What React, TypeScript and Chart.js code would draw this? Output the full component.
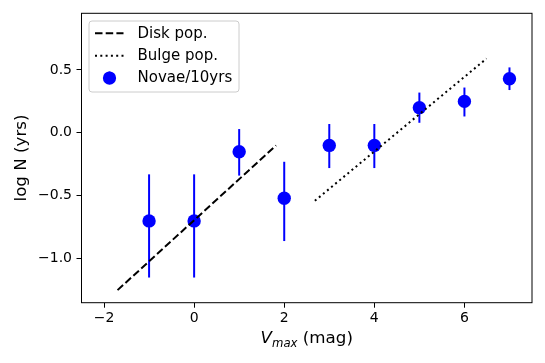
import React, { useEffect, useRef } from 'react';
import { Chart, registerables } from 'chart.js';

Chart.register(...registerables);

// ---- data ----
const vmax = [-1, 0, 1, 2, 3, 4, 5, 6, 7];
const logN = [-0.7, -0.7, -0.15, -0.52, -0.1, -0.1, 0.2, 0.25, 0.43];
const errUpper = [0.37, 0.37, 0.18, 0.29, 0.17, 0.17, 0.12, 0.11, 0.09];
const errLower = [0.45, 0.45, 0.19, 0.34, 0.18, 0.18, 0.12, 0.12, 0.09];

const diskX = [-1.7, 1.82];
const diskY = [-1.25, -0.1];
const bulgeX = [2.68, 6.49];
const bulgeY = [-0.54, 0.59];

const xTicks = [-2, 0, 2, 4, 6];
const yTicks = [-1.0, -0.5, 0.0, 0.5];

const legendLabels = ['Disk pop.', 'Bulge pop.', 'Novae/10yrs'];

const FONT = "'DejaVu Sans', sans-serif";
const TICK_FS = 14;
const LABEL_FS = 16.7;
const LEG_FS = 15;
const BLUE = '#0000ff';
const DASH = [7.5, 3.2];
const DOT = [2, 3.3];
const LW = 2;

const fmtMinus = (s: string) => s.replace('-', '\u2212');

const customPlugin = {
  id: 'customDraw',
  beforeDatasetDraw(chart: any, args: any) {
    if (args.index !== 2) return;
    const { ctx, scales } = chart;
    const xs = scales.x;
    const ys = scales.y;
    ctx.save();
    ctx.strokeStyle = BLUE;
    ctx.lineWidth = 2;
    vmax.forEach((v, i) => {
      const px = xs.getPixelForValue(v);
      ctx.beginPath();
      ctx.moveTo(px, ys.getPixelForValue(logN[i] + errUpper[i]));
      ctx.lineTo(px, ys.getPixelForValue(logN[i] - errLower[i]));
      ctx.stroke();
    });
    ctx.restore();
  },
  afterDraw(chart: any) {
    const { ctx, chartArea } = chart;
    const { left, right, top, bottom } = chartArea;
    ctx.save();
    // frame
    ctx.strokeStyle = '#000';
    ctx.lineWidth = 1;
    ctx.strokeRect(left, top, right - left, bottom - top);

    // legend
    const lx = 89, ly = 21, lw = 150, lh = 71;
    ctx.beginPath();
    const r = 3;
    ctx.moveTo(lx + r, ly);
    ctx.lineTo(lx + lw - r, ly);
    ctx.arcTo(lx + lw, ly, lx + lw, ly + r, r);
    ctx.lineTo(lx + lw, ly + lh - r);
    ctx.arcTo(lx + lw, ly + lh, lx + lw - r, ly + lh, r);
    ctx.lineTo(lx + r, ly + lh);
    ctx.arcTo(lx, ly + lh, lx, ly + lh - r, r);
    ctx.lineTo(lx, ly + r);
    ctx.arcTo(lx, ly, lx + r, ly, r);
    ctx.closePath();
    ctx.fillStyle = 'rgba(255,255,255,0.8)';
    ctx.fill();
    ctx.strokeStyle = '#cccccc';
    ctx.lineWidth = 1;
    ctx.stroke();

    const rows = [33.3, 55.7, 78];
    const hx0 = 95, hx1 = 123.5, mx = 109.5;
    ctx.strokeStyle = '#000';
    ctx.lineWidth = LW;
    ctx.setLineDash(DASH);
    ctx.beginPath();
    ctx.moveTo(hx0, rows[0]);
    ctx.lineTo(hx1, rows[0]);
    ctx.stroke();
    ctx.setLineDash(DOT);
    ctx.beginPath();
    ctx.moveTo(hx0, rows[1]);
    ctx.lineTo(hx1, rows[1]);
    ctx.stroke();
    ctx.setLineDash([]);
    ctx.fillStyle = BLUE;
    ctx.beginPath();
    ctx.arc(mx, rows[2], 6.6, 0, Math.PI * 2);
    ctx.fill();
    ctx.strokeStyle = BLUE;
    ctx.lineWidth = 2;
    ctx.beginPath();
    ctx.moveTo(mx, rows[2] - 6.5);
    ctx.lineTo(mx, rows[2] + 6.5);
    ctx.stroke();

    ctx.fillStyle = '#000';
    ctx.font = `${LEG_FS}px ${FONT}`;
    ctx.textAlign = 'left';
    ctx.textBaseline = 'middle';
    legendLabels.forEach((t, i) => ctx.fillText(t, 137.5, rows[i] + 0.5));

    // x title: V_max (mag)
    const cx = (left + right) / 2;
    const base = 343;
    ctx.textBaseline = 'alphabetic';
    ctx.font = `italic ${LABEL_FS}px ${FONT}`;
    const wV = ctx.measureText('V').width;
    ctx.font = `italic ${LABEL_FS * 0.7}px ${FONT}`;
    const wSub = ctx.measureText('max').width;
    ctx.font = `${LABEL_FS}px ${FONT}`;
    const wRest = ctx.measureText(' (mag)').width;
    let sx = cx - (wV + wSub + wRest) / 2;
    ctx.font = `italic ${LABEL_FS}px ${FONT}`;
    ctx.fillText('V', sx, base);
    sx += wV;
    ctx.font = `italic ${LABEL_FS * 0.7}px ${FONT}`;
    ctx.fillText('max', sx, base + 3.5);
    sx += wSub;
    ctx.font = `${LABEL_FS}px ${FONT}`;
    ctx.fillText(' (mag)', sx, base);

    // y title
    ctx.translate(26, (top + bottom) / 2);
    ctx.rotate(-Math.PI / 2);
    ctx.textAlign = 'center';
    ctx.fillText('log N (yrs)', 0, 0);
    ctx.restore();
  },
};

export default function App() {
  const ref = useRef<HTMLCanvasElement>(null);

  useEffect(() => {
    document.body.style.margin = '0';
    const canvas = ref.current!;
    const chart = new Chart(canvas, {
      type: 'scatter',
      data: {
        datasets: [
          {
            label: legendLabels[0],
            data: diskX.map((x, i) => ({ x, y: diskY[i] })),
            showLine: true,
            borderColor: '#000',
            borderWidth: LW,
            borderDash: DASH,
            pointRadius: 0,
            pointHoverRadius: 0,
          },
          {
            label: legendLabels[1],
            data: bulgeX.map((x, i) => ({ x, y: bulgeY[i] })),
            showLine: true,
            borderColor: '#000',
            borderWidth: LW,
            borderDash: DOT,
            pointRadius: 0,
            pointHoverRadius: 0,
          },
          {
            label: legendLabels[2],
            data: vmax.map((x, i) => ({ x, y: logN[i] })),
            backgroundColor: BLUE,
            borderColor: BLUE,
            borderWidth: 0,
            pointRadius: 6.7,
            pointHoverRadius: 6.7,
          },
        ],
      },
      options: {
        animation: false,
        responsive: false,
        devicePixelRatio: 1,
        layout: { padding: { top: 13.3, right: 13, left: 0, bottom: 0 } },
        plugins: {
          legend: { display: false },
          tooltip: { enabled: false },
        },
        scales: {
          x: {
            type: 'linear',
            min: -2.5,
            max: 7.5,
            border: { display: false },
            grid: {
              display: true,
              drawOnChartArea: false,
              drawTicks: true,
              tickLength: 5,
              tickColor: '#000',
              lineWidth: 1,
            },
            afterBuildTicks: (s: any) => {
              s.ticks = xTicks.map((v) => ({ value: v }));
            },
            afterFit: (s: any) => {
              s.height = 60.3;
            },
            ticks: {
              color: '#000',
              padding: 2,
              maxRotation: 0,
              font: { family: FONT, size: TICK_FS },
              callback: (v: any) => fmtMinus(String(v)),
            },
          },
          y: {
            type: 'linear',
            min: -1.35,
            max: 0.95,
            border: { display: false },
            grid: {
              display: true,
              drawOnChartArea: false,
              drawTicks: true,
              tickLength: 5,
              tickColor: '#000',
              lineWidth: 1,
            },
            afterBuildTicks: (s: any) => {
              s.ticks = yTicks.map((v) => ({ value: v }));
            },
            afterFit: (s: any) => {
              s.width = 81.5;
            },
            ticks: {
              color: '#000',
              padding: 4.5,
              font: { family: FONT, size: TICK_FS },
              callback: (v: any) => fmtMinus(Number(v).toFixed(1)),
            },
          },
        },
      },
      plugins: [customPlugin],
    } as any);
    return () => chart.destroy();
  }, []);

  return <canvas ref={ref} width={545} height={363} style={{ display: 'block' }} />;
}
